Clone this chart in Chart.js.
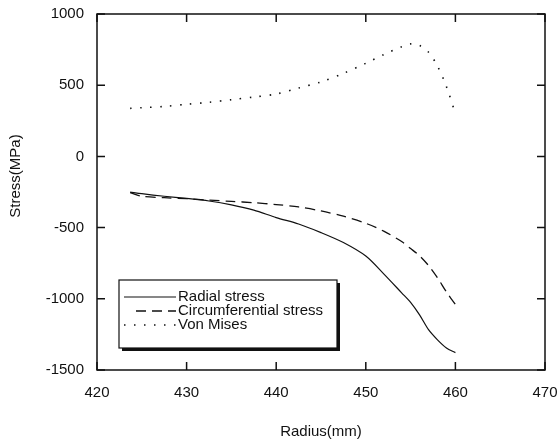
<!DOCTYPE html>
<html>
<head>
<meta charset="utf-8">
<script src="https://cdn.jsdelivr.net/npm/chart.js@4.4.1/dist/chart.umd.min.js"></script>
<style>
  body { margin: 0; background: #fff; }
  canvas { display: block; }
</style>
</head>
<body>
<canvas id="chart" width="558" height="445"></canvas>
<script>
// radius (mm) sample points
var radius = [423.7, 425, 427.5, 430, 432.5, 435, 437.5, 440, 442.5, 445, 447.5, 450, 452, 454, 455, 456, 457, 458, 459, 460];

// stress (MPa)
var radialStress = [-251, -262, -280, -295, -313, -340, -377, -430, -475, -535, -605, -700, -825, -958, -1025, -1113, -1217, -1288, -1345, -1378];
var circumStress = [-255, -280, -290, -297, -307, -316, -325, -338, -355, -383, -420, -470, -525, -598, -647, -698, -766, -852, -952, -1040];
var vonMises = [337, 342, 351, 366, 380, 398, 417, 438, 480, 523, 583, 654, 715, 770, 790, 779, 732, 635, 490, 300];

var seriesNames = ["Radial stress", "Circumferential stress", "Von Mises"];
var xTicks = [420, 430, 440, 450, 460, 470];
var yTicks = [-1500, -1000, -500, 0, 500, 1000];

var FONT = "Liberation Sans, Arial, sans-serif";

function pts(ys) {
    return radius.map(function (r, i) { return {x: r, y: ys[i]}; });
}

// box around the plot with inward tick marks on all four sides
var frame = {
    id: "frame",
    afterDraw: function (chart) {
        var c = chart.ctx, a = chart.chartArea;
        var sx = chart.scales.x, sy = chart.scales.y;
        c.save();
        c.strokeStyle = "#111";
        c.lineWidth = 1.5;
        c.strokeRect(a.left, a.top, a.right - a.left, a.bottom - a.top);
        c.beginPath();
        xTicks.forEach(function (v) {
            var px = sx.getPixelForValue(v);
            c.moveTo(px, a.bottom); c.lineTo(px, a.bottom - 8);
            c.moveTo(px, a.top); c.lineTo(px, a.top + 8);
        });
        yTicks.forEach(function (v) {
            var py = sy.getPixelForValue(v);
            c.moveTo(a.left, py); c.lineTo(a.left + 8, py);
            c.moveTo(a.right, py); c.lineTo(a.right - 8, py);
        });
        c.stroke();

        // y title
        c.fillStyle = "#111";
        c.font = "15px " + FONT;
        c.textAlign = "center";
        c.textBaseline = "middle";
        c.translate(16, 176);
        c.rotate(-Math.PI / 2);
        c.fillText("Stress(MPa)", 0, 0);
        c.restore();
    }
};

// legend box with drop shadow
var legendBox = {
    id: "legendBox",
    afterDraw: function (chart) {
        var c = chart.ctx;
        var x = 119, y = 280, w = 218, h = 68;
        c.save();
        c.fillStyle = "#111";
        c.fillRect(x + 3, y + 3, w, h);
        c.fillStyle = "#fff";
        c.fillRect(x, y, w, h);
        c.strokeStyle = "#111";
        c.lineWidth = 1.2;
        c.strokeRect(x, y, w, h);
        c.font = "15px " + FONT;
        c.textBaseline = "middle";
        c.textAlign = "left";
        chart.data.datasets.forEach(function (ds, i) {
            var ly = y + 17 + i * 14;
            c.beginPath();
            c.setLineDash(ds.borderDash || []);
            c.lineWidth = ds.borderWidth;
            c.moveTo(i == 1 ? 136 : 124, ly);
            c.lineTo(176, ly);
            c.stroke();
            c.setLineDash([]);
            c.fillStyle = "#111";
            c.fillText(ds.label, 178, ly);
        });
        c.restore();
    }
};

new Chart(document.getElementById("chart"), {
    type: "scatter",
    data: {
        datasets: [
            {label: seriesNames[0], data: pts(radialStress), showLine: true, borderColor: "#111",
             borderWidth: 1.2, borderDash: [], pointRadius: 0, tension: 0.3},
            {label: seriesNames[1], data: pts(circumStress), showLine: true, borderColor: "#111",
             borderWidth: 1.3, borderDash: [10, 6], pointRadius: 0, tension: 0.3},
            {label: seriesNames[2], data: pts(vonMises), showLine: true, borderColor: "#111",
             borderWidth: 1.6, borderDash: [1.5, 8.5], pointRadius: 0, tension: 0.3}
        ]
    },
    options: {
        responsive: false,
        animation: false,
        layout: {padding: {top: 14, right: 13, left: 0, bottom: 0}},
        plugins: {legend: {display: false}, tooltip: {enabled: false}},
        scales: {
            x: {
                type: "linear", min: 420, max: 470,
                afterBuildTicks: function (s) { s.ticks = xTicks.map(function (v) { return {value: v}; }); },
                afterFit: function (s) { s.height = 75; s.paddingLeft = 0; s.paddingRight = 0; },
                grid: {display: false, drawTicks: false},
                border: {display: false},
                ticks: {color: "#111", font: {family: FONT, size: 15}, padding: 14, maxRotation: 0,
                        callback: function (v) { return String(v); }},
                title: {display: true, text: "Radius(mm)", color: "#111", font: {family: FONT, size: 15}, padding: {top: 31}}
            },
            y: {
                type: "linear", min: -1500, max: 1000,
                afterBuildTicks: function (s) { s.ticks = yTicks.map(function (v) { return {value: v}; }); },
                afterFit: function (s) { s.width = 97; s.paddingTop = 0; s.paddingBottom = 0; },
                grid: {display: false, drawTicks: false},
                border: {display: false},
                ticks: {color: "#111", font: {family: FONT, size: 15}, padding: 13,
                        callback: function (v) { return String(v); }}
            }
        }
    },
    plugins: [frame, legendBox]
});
</script>
</body>
</html>
